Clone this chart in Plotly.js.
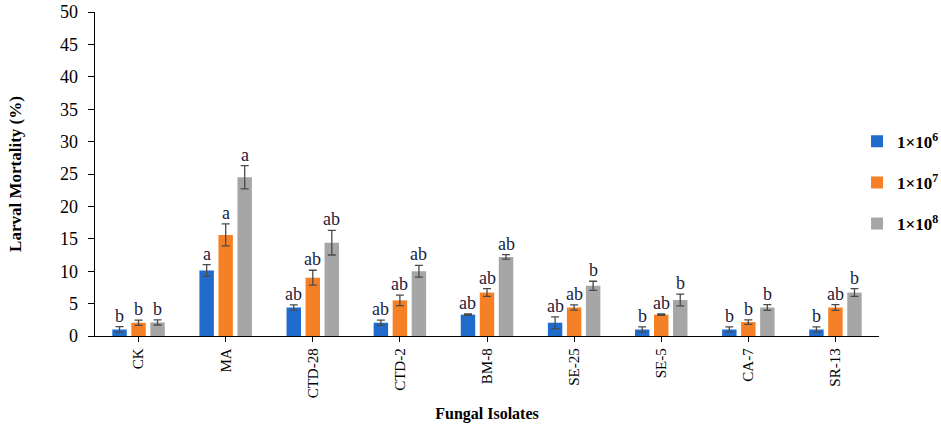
<!DOCTYPE html>
<html><head><meta charset="utf-8">
<script src="https://cdn.plot.ly/plotly-3.0.1.min.js"></script>
<style>html,body{margin:0;padding:0;background:#fff}</style>
</head><body>
<div id="chart" style="width:941px;height:438px"></div>
<script>
const categories = ["CK","MA","CTD-28","CTD-2","BM-8","SE-25","SE-5","CA-7","SR-13"];
const seriesNames = ["<b>1×10<sup>6</sup></b>","<b>1×10<sup>7</sup></b>","<b>1×10<sup>8</sup></b>"];
const colors = ["#1f6ccc","#f58025","#a6a6a6"];
const v6 = [1.0, 10.1, 4.4, 2.05, 3.3, 2.05, 1.0, 1.0, 1.0];
const e6 = [0.45, 0.9, 0.4, 0.4, 0.1, 0.9, 0.4, 0.4, 0.4];
const v7 = [2.05, 15.6, 9.0, 5.5, 6.7, 4.4, 3.3, 2.15, 4.4];
const e7 = [0.4, 1.7, 1.15, 0.8, 0.6, 0.4, 0.1, 0.35, 0.45];
const v8 = [2.1, 24.5, 14.4, 10.0, 12.2, 7.75, 5.55, 4.4, 6.7];
const e8 = [0.4, 1.8, 1.9, 0.9, 0.35, 0.7, 0.9, 0.45, 0.6];
const l6 = ["b","a","ab","ab","ab","ab","b","b","b"];
const l7 = ["b","a","ab","ab","ab","ab","ab","b","ab"];
const l8 = ["b","a","ab","ab","ab","b","b","b","b"];

const vals = [v6, v7, v8], errs = [e6, e7, e8], letters = [l6, l7, l8];
const bargap = 0.345;
const slot = (1 - bargap) / 3;
const serif = "Liberation Serif, Times New Roman, serif";

const traces = vals.map((v, i) => ({
  type: "bar", x: categories, y: v, name: seriesNames[i],
  legendgroup: "g" + i,
  marker: {color: colors[i]},
  error_y: {type: "data", array: errs[i], visible: true, color: "#4a4a4a", thickness: 1.3, width: 4},
  hoverinfo: "y"
}));

const annotations = [];
vals.forEach((v, i) => {
  v.forEach((val, j) => {
    annotations.push({
      x: j + (i - 1) * slot, y: val + errs[i][j], xref: "x", yref: "y",
      text: letters[i][j], showarrow: false, yanchor: "bottom", yshift: -1,
      font: {family: serif, size: 18, color: "#1c1c3c"}
    });
  });
});

const layout = {
  width: 941, height: 438,
  margin: {l: 95, r: 62, t: 12, b: 102, autoexpand: false},
  paper_bgcolor: "#fff", plot_bgcolor: "#fff",
  barmode: "group", bargap: bargap, bargroupgap: 0.24,
  showlegend: true,
  legend: {x: 0.972, y: 0.655, xanchor: "left", yanchor: "top",
           font: {family: serif, size: 17, color: "#000"},
           tracegroupgap: 16, bgcolor: "rgba(0,0,0,0)"},
  xaxis: {
    type: "category", showline: true, linecolor: "#000", linewidth: 1.3,
    ticks: "outside", ticklen: 5, tickcolor: "#000", tickangle: -90,
    tickfont: {family: serif, size: 15, color: "#000"},
    title: {text: "<b>Fungal Isolates</b>", font: {family: serif, size: 16, color: "#000"}, standoff: 10},
    showgrid: false, zeroline: false, fixedrange: true
  },
  yaxis: {
    range: [0, 50], dtick: 5, showline: true, linecolor: "#000", linewidth: 1.3,
    ticks: "outside", ticklen: 6, tickcolor: "#000", ticklabelstandoff: 6,
    tickfont: {family: serif, size: 18, color: "#000"},
    title: {text: "<b>Larval Mortality (%)</b>", font: {family: serif, size: 17, color: "#000"}, standoff: 34},
    showgrid: false, zeroline: false, fixedrange: true
  },
  annotations: annotations
};

Plotly.newPlot("chart", traces, layout, {displayModeBar: false, staticPlot: true});
</script>
</body></html>
